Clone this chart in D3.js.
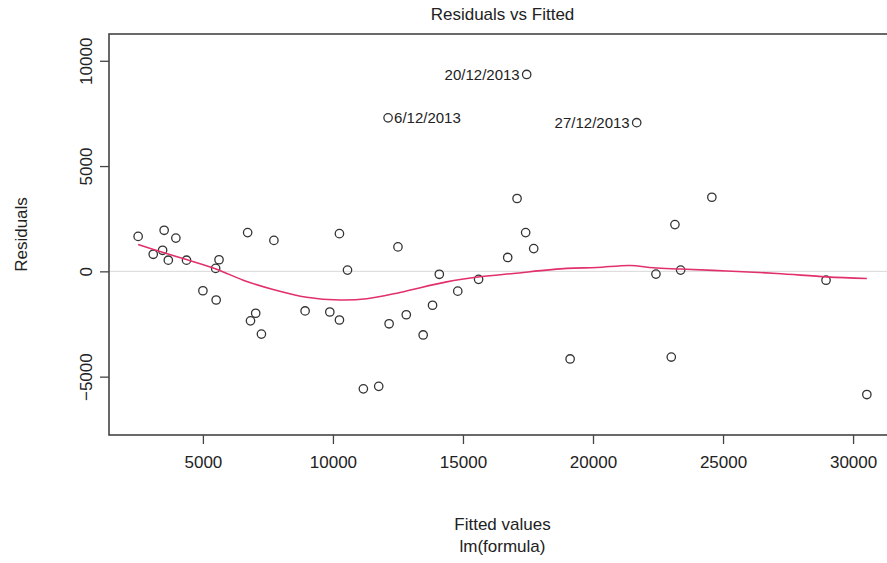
<!DOCTYPE html>
<html>
<head>
<meta charset="utf-8">
<script src="https://cdn.jsdelivr.net/npm/d3@7/dist/d3.min.js"></script>
<style>
  body { margin: 0; background: #fff; }
  svg text { font-family: "Liberation Sans", Arial, sans-serif; fill: #222; }
</style>
</head>
<body>
<svg id="chart"></svg>
<script>
// fitted values and residuals
var fitted = [2510, 3510, 3960, 3090, 3450, 3670, 4370, 5620, 5490, 6720,
              7730, 5000, 5510, 7030, 6830, 7250, 10250, 10560, 8930, 9880,
              10250, 12160, 11170, 11760, 12500, 14090, 14800, 13830, 12820, 13470,
              16720, 17410, 17720, 17080, 15600, 19120, 22420, 23150, 23010, 23370,
              24570, 28960, 30530, 12120, 17450, 21680];
var resid = [1660, 1950, 1580, 810, 1000, 530, 530, 550, 140, 1840,
             1470, -920, -1360, -1990, -2350, -2980, 1790, 60, -1880, -1930,
             -2310, -2490, -5580, -5460, 1160, -140, -940, -1610, -2060, -3020,
             660, 1840, 1080, 3460, -380, -4160, -130, 2220, -4070, 60,
             3520, -420, -5850, 7290, 9350, 7060];

// labelled outliers (index into the arrays above)
var outlierIdx = [43, 44, 45];
var outlierNames = ["6/12/2013", "20/12/2013", "27/12/2013"];

// smoother (red line)
var smoothX = [2510, 3600, 4370, 5530, 6550, 7700, 8990, 10270, 11300, 12580,
               14370, 15650, 16940, 18990, 20140, 21420, 22320, 23350, 25140,
               27070, 28990, 30530];
var smoothY = [1270, 850, 560, 100, -420, -860, -1230, -1360, -1300, -1000,
               -500, -260, -100, 140, 180, 280, 170, 110, 20,
               -100, -260, -340];

var xTicks = [5000, 10000, 15000, 20000, 25000, 30000];
var yTicks = [-5000, 0, 5000, 10000];

var W = 887, H = 563;
var margin = {top: 34, left: 109, right: 896, bottom: 435};

var svg = d3.select('#chart')
    .attr('width', W)
    .attr('height', H)
    .style('display', 'block');

// R style limits: 4% padding, y first extended by 8% (plot.lm)
var xr = d3.extent(fitted);
var xpad = (xr[1] - xr[0]) * 0.04;
var x = d3.scaleLinear()
    .domain([xr[0] - xpad, xr[1] + xpad])
    .range([margin.left, margin.right]);

var yr = d3.extent(resid);
var yext = (yr[1] - yr[0]) * 0.08;
yr = [yr[0] - yext, yr[1] + yext];
var ypad = (yr[1] - yr[0]) * 0.04;
var y = d3.scaleLinear()
    .domain([yr[0] - ypad, yr[1] + ypad])
    .range([margin.bottom, margin.top]);

// zero reference line
svg.append('line')
    .attr('x1', margin.left).attr('x2', margin.right)
    .attr('y1', y(0)).attr('y2', y(0))
    .attr('stroke', '#d8d8d8')
    .attr('stroke-width', 1);

// points
svg.append('g').selectAll('circle')
    .data(fitted)
    .enter().append('circle')
    .attr('cx', function(d) { return x(d); })
    .attr('cy', function(d, i) { return y(resid[i]); })
    .attr('r', 4.2)
    .attr('fill', 'none')
    .attr('stroke', '#333')
    .attr('stroke-width', 1.3);

// smoother
var xy = [];
for (var i = 0; i < smoothX.length; i++) {
    xy.push({x: smoothX[i], y: smoothY[i]});
}
svg.append('path')
    .datum(xy)
    .attr('fill', 'none')
    .attr('stroke', '#e2306a')
    .attr('stroke-width', 1.6)
    .attr('d', d3.line()
        .curve(d3.curveCatmullRom)
        .x(function(d) { return x(d.x); })
        .y(function(d) { return y(d.y); }));

// outlier labels
var mid = d3.mean(x.domain());
outlierIdx.forEach(function(k, j) {
    var left = fitted[k] > mid;
    svg.append('text')
        .attr('x', x(fitted[k]) + (left ? -7 : 6))
        .attr('y', y(resid[k]))
        .attr('dy', '0.35em')
        .attr('text-anchor', left ? 'end' : 'start')
        .style('font-size', '15px')
        .text(outlierNames[j]);
});

// box
svg.append('rect')
    .attr('x', margin.left).attr('y', margin.top)
    .attr('width', margin.right - margin.left)
    .attr('height', margin.bottom - margin.top)
    .attr('fill', 'none')
    .attr('stroke', '#444')
    .attr('stroke-width', 1.6);

// x axis
var gx = svg.append('g')
    .attr('transform', 'translate(0,' + margin.bottom + ')')
    .call(d3.axisBottom(x).tickValues(xTicks).tickSize(9).tickPadding(12)
        .tickFormat(d3.format('d')));
gx.select('.domain').remove();
gx.selectAll('line').attr('stroke', '#444').attr('stroke-width', 1.3);
gx.selectAll('text').style('font-size', '17px').attr('fill', '#222');

// y axis
var gy = svg.append('g')
    .attr('transform', 'translate(' + margin.left + ',0)')
    .call(d3.axisLeft(y).tickValues(yTicks).tickSize(9)
        .tickFormat(d3.format('d')));
gy.select('.domain').remove();
gy.selectAll('line').attr('stroke', '#444').attr('stroke-width', 1.3);
gy.selectAll('text')
    .style('font-size', '17px')
    .attr('fill', '#222')
    .attr('text-anchor', 'middle')
    .attr('x', 0).attr('dy', 0)
    .attr('transform', 'rotate(-90)')
    .attr('y', -17);

// titles
var cx = (margin.left + margin.right) / 2;
svg.append('text')
    .attr('x', cx).attr('y', 20)
    .attr('text-anchor', 'middle')
    .style('font-size', '17px')
    .text('Residuals vs Fitted');

svg.append('text')
    .attr('x', cx).attr('y', 530)
    .attr('text-anchor', 'middle')
    .style('font-size', '17px')
    .text('Fitted values');

svg.append('text')
    .attr('x', cx).attr('y', 552)
    .attr('text-anchor', 'middle')
    .style('font-size', '17px')
    .text('lm(formula)');

svg.append('text')
    .attr('transform', 'translate(27,' + ((margin.top + margin.bottom) / 2) + ') rotate(-90)')
    .attr('text-anchor', 'middle')
    .style('font-size', '17px')
    .text('Residuals');
</script>
</body>
</html>
